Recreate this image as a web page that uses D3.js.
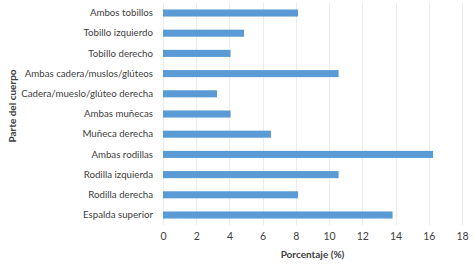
<!DOCTYPE html>
<html>
<head>
<meta charset="utf-8">
<script src="https://cdn.jsdelivr.net/npm/d3@7"></script>
<style>
  body { margin: 0; background: #fff; }
  text { font-family: Lato, sans-serif; fill: #404040; }
</style>
</head>
<body>
<svg id="chart"></svg>
<script>
const categories = [
  "Ambos tobillos", "Tobillo izquierdo", "Tobillo derecho",
  "Ambas cadera/muslos/glúteos", "Cadera/mueslo/glúteo derecha",
  "Ambas muñecas", "Muñeca derecha", "Ambas rodillas",
  "Rodilla izquierda", "Rodilla derecha", "Espalda superior"
];
const values = [8.13, 4.88, 4.07, 10.57, 3.25, 4.07, 6.5, 16.26, 10.57, 8.13, 13.82];
const xTicks = [0, 2, 4, 6, 8, 10, 12, 14, 16, 18];

const width = 475, height = 264;
const margin = {top: 3, right: 13, bottom: 39, left: 163};
const innerW = width - margin.left - margin.right;
const innerH = height - margin.top - margin.bottom;
const font = "Lato, sans-serif";
const fsize = "9.7px";

const svg = d3.select("#chart").attr("width", width).attr("height", height);
const chart = svg.append("g").attr("transform", `translate(${margin.left},${margin.top})`);

const x = d3.scaleLinear().domain([0, 18]).range([0, innerW]);
const y = d3.scaleBand().domain(categories).range([0, innerH]).paddingInner(0.65).paddingOuter(0.32);

// gridlines
chart.selectAll(".grid")
  .data(xTicks)
  .join("line")
  .attr("x1", d => Math.round(x(d)) + 0.5)
  .attr("x2", d => Math.round(x(d)) + 0.5)
  .attr("y1", 0)
  .attr("y2", innerH)
  .attr("stroke", "#ececec")
  .attr("stroke-width", 1);

chart.selectAll("rect")
  .data(values)
  .join("rect")
  .attr("x", x(0))
  .attr("y", (d, i) => y(categories[i]))
  .attr("width", d => x(d) - x(0))
  .attr("height", y.bandwidth())
  .attr("fill", "#5b9bd5");

const xaxis = d3.axisBottom(x).tickValues(xTicks).tickSize(0).tickPadding(8);
const xg = chart.append("g").attr("transform", `translate(0,${innerH})`).call(xaxis);
xg.select(".domain").remove();
xg.selectAll("text").attr("font-size", "10.5px").attr("font-family", font).attr("fill", "#404040");

const yaxis = d3.axisLeft(y).tickSize(0).tickPadding(10);
const yg = chart.append("g").call(yaxis);
yg.select(".domain").remove();
yg.selectAll("text").attr("font-size", fsize).attr("font-family", font).attr("fill", "#404040");

svg.append("text")
  .attr("x", margin.left + innerW / 2)
  .attr("y", 258)
  .attr("text-anchor", "middle")
  .attr("font-size", "10px")
  .attr("font-weight", "bold")
  .text("Porcentaje (%)");

svg.append("text")
  .attr("transform", "translate(16,106) rotate(-90)")
  .attr("text-anchor", "middle")
  .attr("font-size", "10px")
  .attr("font-weight", "bold")
  .text("Parte del cuerpo");
</script>
</body>
</html>
